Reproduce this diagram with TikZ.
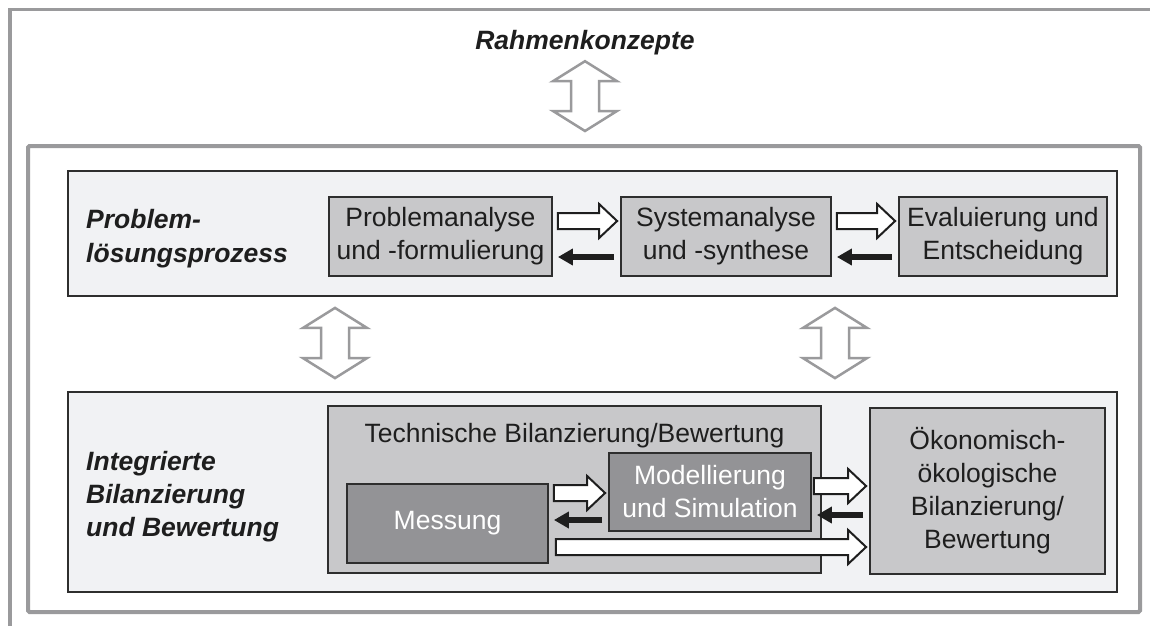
\documentclass[tikz,border=0pt]{standalone}
\usepackage{fontspec}
\setmainfont{Liberation Sans}
\usetikzlibrary{calc,arrows.meta}

\definecolor{framegray}{HTML}{9A9A9C}
\definecolor{panelfill}{HTML}{F1F2F4}
\definecolor{boxfill}{HTML}{C8C8CA}
\definecolor{darkfill}{HTML}{939396}
\definecolor{edgecol}{HTML}{2E2E2E}
\definecolor{inkcol}{HTML}{1E1E1E}

\newcommand{\boxfont}{\fontsize{26.5}{33}\selectfont}

\tikzset{
  outerline/.style={draw=framegray, line width=3.5},
  panel/.style={draw=edgecol, fill=panelfill, line width=1.8, inner sep=0, minimum width=1049},
  box/.style={draw=edgecol, fill=boxfill, line width=1.8, inner sep=0, align=center,
              font=\boxfont, text=inkcol},
  darkbox/.style={box, fill=darkfill, text=white},
  sidelabel/.style={inner sep=0, align=left, text=inkcol},
  openarr/.style={draw=inkcol, fill=white, line width=2, line join=miter},
  backarr/.style={draw=inkcol, line width=6, -{Triangle[length=15pt,width=16pt]}},
  twoway/.style={draw=framegray, fill=white, line width=2.5, line join=miter},
}

% hollow block arrow from the east side of #1 to the west side of #2,
% centred on line #3, starting #4 after the source
\newcommand{\openarrow}[4]{%
  \draw[openarr] ($(#1.east|-0,#3)+(#4,8)$) -- ($(#2.west|-0,#3)+(-21,8)$) -- ++(0,9)
    -- ($(#2.west|-0,#3)+(-3,0)$) -- ($(#2.west|-0,#3)+(-21,-17)$) -- ++(0,9)
    -- ($(#1.east|-0,#3)+(#4,-8)$) -- cycle;}

% solid return arrow from the west side of #1 to the east side of #2 on line #3
\newcommand{\backarrow}[3]{%
  \draw[backarr] ($(#1.west|-0,#3)+(-6,0)$) -- ($(#2.east|-0,#3)+(5,0)$);}

% grey two-headed block arrow at x=#1 between #2 (above) and #3 (below)
\newcommand{\twoway}[5]{%
  \draw[twoway] ($(#2.south-|#1,0)+(0,#4)$) -- ++(32,20) -- ++(-18,0)
    -- ($(#3.north-|#1,0)+(14,-#5-20)$) -- ++(18,0)
    -- ($(#3.north-|#1,0)+(0,-#5)$) -- ++(-32,-20) -- ++(18,0)
    -- ($(#2.south-|#1,0)+(-14,#4+20)$) -- ++(-18,0) -- cycle;}

\begin{document}
\begin{tikzpicture}[x=1pt,y=-1pt]
\useasboundingbox[fill=white] (0,0) rectangle (1150,625);

% outer frame (top and left edge)
\draw[outerline] (1153,9.5) -- (10,9.5) -- (10,628);

% inner frame
\node[draw=framegray, line width=4, minimum width=1112, minimum height=466,
      inner sep=0, rounded corners=1.5] (inner) at (584,379) {};

\node[sidelabel, font=\fontsize{26.5}{33}\selectfont\bfseries\itshape, anchor=base]
  (rk) at (585,49) {Rahmenkonzepte};

% the two layers
\node[panel, minimum height=125] (top) at (592.5,233.5) {};
\node[panel, minimum height=200] (bottom) at (592.5,492) {};

\node[sidelabel, font=\fontsize{26.5}{34}\selectfont\bfseries\itshape, anchor=west]
  (pl) at (86,239) {Problem-\\lösungsprozess};
\node[sidelabel, font=\fontsize{26.5}{33}\selectfont\bfseries\itshape, anchor=west]
  (ib) at (86,497) {Integrierte\\Bilanzierung\\und Bewertung};

% problem-solving process
\node[box, minimum width=223, minimum height=79] (pa) at (440.5,236.5) {Problemanalyse\\und -formulierung};
\node[box, minimum width=210, minimum height=79] (sa) at (726,236.5) {Systemanalyse\\und -synthese};
\node[box, minimum width=208, minimum height=79] (ev) at (1003,236.5) {Evaluierung und\\Entscheidung};

% integrated accounting and assessment
\node[box, minimum width=493, minimum height=167, line width=2.2] (tb) at (574.5,489.5) {};
\node[inner sep=0, font=\boxfont, text=inkcol, anchor=base] (tbt) at (574.5,442)
  {Technische Bilanzierung/Bewertung};
\node[darkbox, minimum width=201, minimum height=79] (me) at (447.5,523.5) {Messung};
\node[darkbox, minimum width=202, minimum height=78] (mo) at (710,492) {Modellierung\\und Simulation};
\node[box, minimum width=235, minimum height=166]
  (ok) at (987.5,491) {Ökonomisch-\\ökologische\\Bilanzierung/\\Bewertung};

% flows in the upper layer
\openarrow{pa}{sa}{221}{5}
\openarrow{sa}{ev}{221}{5}
\backarrow{sa}{pa}{257}
\backarrow{ev}{sa}{257}

% flows in the lower layer
\openarrow{me}{mo}{493}{5}
\backarrow{mo}{me}{520}
\openarrow{mo}{ok}{486}{2}
\backarrow{ok}{mo}{515}
\openarrow{me}{ok}{547}{7}

% links between the levels
\twoway{585}{rk}{inner}{6.5}{13}
\twoway{335}{top}{bottom}{11}{13}
\twoway{835}{top}{bottom}{11}{13}
\end{tikzpicture}
\end{document}
